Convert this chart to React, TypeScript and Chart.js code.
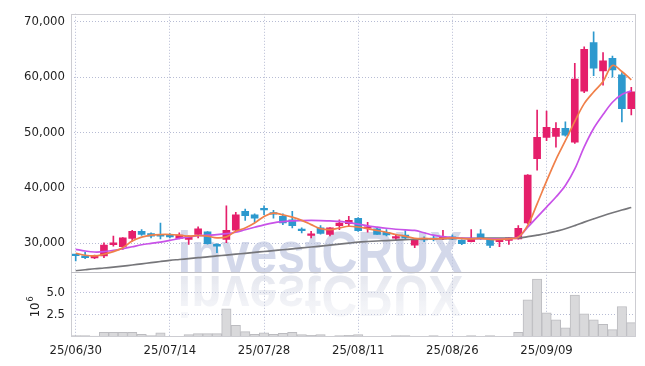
import React, { useEffect, useRef } from 'react';
import { Chart, registerables } from 'chart.js';

Chart.register(...registerables);

const dates = [
  '25/06/30', '25/07/01', '25/07/02', '25/07/03', '25/07/04', '25/07/07', '25/07/08', '25/07/09', '25/07/10', '25/07/11',
  '25/07/14', '25/07/15', '25/07/16', '25/07/17', '25/07/18', '25/07/21', '25/07/22', '25/07/23', '25/07/24', '25/07/25',
  '25/07/28', '25/07/29', '25/07/30', '25/07/31', '25/08/01', '25/08/04', '25/08/05', '25/08/06', '25/08/07', '25/08/08',
  '25/08/11', '25/08/12', '25/08/13', '25/08/14', '25/08/18', '25/08/19', '25/08/20', '25/08/21', '25/08/22', '25/08/25',
  '25/08/26', '25/08/27', '25/08/28', '25/08/29', '25/09/01', '25/09/02', '25/09/03', '25/09/04', '25/09/05', '25/09/08',
  '25/09/09', '25/09/10', '25/09/11', '25/09/12', '25/09/15', '25/09/16', '25/09/17', '25/09/18', '25/09/19', '25/09/22',
];

const opens = [
  27900, 27680, 27320, 27680, 29700, 29340, 30830, 32140, 31730, 31550,
  31430, 30830, 30650, 31550, 32020, 29760, 30650, 32320, 35720, 35120,
  36130, 35420, 34820, 34220, 32440, 31370, 32740, 31550, 33160, 33510,
  34460, 32680, 32560, 31960, 30890, 31430, 29640, 30770, 30830, 30770,
  31130, 30480, 30240, 31670, 30650, 30240, 30480, 30770, 33630, 45240,
  49110, 49290, 50720, 48220, 57450, 66250, 61130, 63390, 60420, 54280,
];
const highs = [
  27950, 28390, 27850, 30050, 31250, 31000, 32320, 32440, 31850, 33630,
  31730, 31840, 31300, 32920, 32100, 29900, 36730, 35540, 36130, 35300,
  36730, 35900, 35300, 35720, 32740, 32140, 33160, 32800, 34220, 34820,
  34600, 33750, 32700, 32440, 31550, 32260, 30650, 31130, 31300, 32320,
  31500, 30600, 32440, 32440, 30700, 30700, 31000, 33160, 42400, 54050,
  53870, 51790, 51910, 62500, 65480, 68160, 64410, 63800, 60800, 58160,
];
const lows = [
  26800, 27200, 27200, 27380, 29460, 28870, 30360, 31370, 30950, 30770,
  30950, 30770, 29760, 30950, 29800, 28270, 30060, 32200, 34100, 33750,
  35120, 34520, 33330, 32740, 31840, 30950, 31600, 31300, 32440, 33040,
  32100, 31960, 31550, 31300, 30480, 30650, 29160, 30240, 30400, 30600,
  30600, 29700, 30200, 30650, 29160, 29340, 29760, 30700, 33500, 43160,
  48520, 47320, 49300, 48000, 57200, 60240, 58520, 60000, 51910, 53160,
];
const closes = [
  27750, 27380, 27800, 29640, 30050, 30950, 32140, 31550, 31250, 31250,
  31130, 31430, 31250, 32560, 29880, 29460, 32320, 35120, 34940, 34520,
  36010, 35240, 33630, 33160, 32260, 31670, 31730, 32740, 33630, 34100,
  32260, 32860, 31550, 31490, 31070, 30950, 30650, 30590, 30650, 31010,
  30770, 29880, 30830, 30830, 29580, 30650, 30950, 32680, 42270, 49110,
  50900, 50720, 49520, 59650, 65000, 61610, 62920, 61310, 54280, 57330,
];
const volumes = [
  150000, 150000, 100000, 520000, 520000, 520000, 520000, 300000, 150000, 480000,
  80000, 80000, 260000, 370000, 370000, 370000, 3150000, 1300000, 600000, 300000,
  480000, 300000, 400000, 520000, 260000, 190000, 260000, 50000, 150000, 190000,
  260000, 80000, 80000, 80000, 150000, 150000, 80000, 80000, 150000, 80000,
  80000, 80000, 150000, 80000, 150000, 80000, 80000, 520000, 4150000, 6480000,
  2700000, 1930000, 1040000, 4700000, 2600000, 1930000, 1410000, 820000, 3410000, 1600000,
];
const ma5 = [
  28160, 27800, 27680, 27980, 28450, 29160, 30360, 31070, 31430, 31550,
  31550, 31430, 31250, 31370, 31250, 30950, 31130, 32140, 32730, 33620,
  34820, 35410, 35120, 34700, 34110, 33340, 32620, 32440, 32730, 33040,
  32910, 32620, 32270, 31960, 31550, 31250, 30840, 30840, 30770, 30840,
  30950, 30840, 30770, 30840, 30660, 30660, 30770, 31070, 33200, 37100,
  41200, 45100, 48500, 52000, 55200, 57300, 59200, 62100, 61000, 59500,
];
const ma10 = [
  28875, 28571, 28393, 28446, 28696, 28982, 29339, 29696, 29946, 30179,
  30482, 30839, 31125, 31339, 31429, 31518, 31696, 31964, 32411, 32857,
  33304, 33661, 33875, 34018, 34071, 34089, 34071, 34000, 33929, 33696,
  33429, 33125, 32893, 32679, 32500, 32375, 32286, 31875, 31429, 31161,
  30982, 30893, 30839, 30804, 30768, 30768, 30804, 31071, 32857, 34696,
  36500, 38321, 40393, 43393, 47393, 50714, 53214, 55446, 56839, 57500,
];
const ma60 = [
  25000, 25180, 25360, 25500, 25660, 25840, 26040, 26250, 26460, 26680,
  26880, 27040, 27200, 27360, 27500, 27680, 27840, 28000, 28160, 28320,
  28480, 28640, 28800, 28960, 29120, 29290, 29460, 29640, 29820, 30000,
  30180, 30290, 30380, 30460, 30550, 30620, 30680, 30730, 30770, 30800,
  30820, 30840, 30860, 30870, 30890, 30890, 30910, 30960, 31160, 31430,
  31730, 32140, 32590, 33160, 33790, 34380, 34950, 35480, 35980, 36430,
];

const priceTicks = [30000, 40000, 50000, 60000, 70000];
const volumeTicks = [2500000, 5000000];
const labelEvery = 10;

const UP = 'rgb(229,31,107)';
const DOWN = 'rgb(45,153,206)';
const GRID = 'rgba(170,176,205,0.85)';
const TEXT = '#1f1f1f';
const FONT = "'DejaVu Sans Condensed', 'DejaVu Sans', sans-serif";

const candleColor = (i: number) => (closes[i] >= opens[i] ? UP : DOWN);

const decorPlugin = {
  id: 'decor',
  beforeDatasetsDraw(chart: any) {
    const { ctx, chartArea } = chart;
    ctx.save();
    ctx.beginPath();
    ctx.rect(chartArea.left, chartArea.top, chartArea.right - chartArea.left, chartArea.bottom - chartArea.top);
    ctx.clip();
    ctx.font = "bold 60px 'Liberation Sans', Arial, sans-serif";
    ctx.textAlign = 'center';
    ctx.textBaseline = 'alphabetic';
    ctx.translate(320, 273);
    ctx.save();
    ctx.scale(0.83, 1);
    ctx.fillStyle = 'rgba(190,198,224,0.68)';
    ctx.fillText('investCRUX', 0, 0);
    ctx.restore();
    ctx.save();
    ctx.translate(0, 3);
    ctx.scale(0.83, -0.95);
    const g = ctx.createLinearGradient(0, 0, 0, -46);
    g.addColorStop(0, 'rgba(205,209,224,0.5)');
    g.addColorStop(1, 'rgba(205,209,224,0.15)');
    ctx.fillStyle = g;
    ctx.fillText('investCRUX', 0, 0);
    ctx.restore();
    ctx.restore();
  },
  afterDatasetsDraw(chart: any) {
    const { ctx, chartArea } = chart;
    const sep = chart.scales.y.bottom;
    ctx.save();
    ctx.strokeStyle = 'rgb(205,205,210)';
    ctx.lineWidth = 1;
    ctx.strokeRect(
      Math.round(chartArea.left) + 0.5,
      Math.round(chartArea.top) + 0.5,
      Math.round(chartArea.right - chartArea.left) - 1,
      Math.round(chartArea.bottom - chartArea.top) - 1
    );
    ctx.strokeStyle = 'rgb(190,190,195)';
    ctx.beginPath();
    ctx.moveTo(chartArea.left, Math.round(sep) + 0.5);
    ctx.lineTo(chartArea.right, Math.round(sep) + 0.5);
    ctx.stroke();
    // volume unit label
    const v = chart.scales.v;
    ctx.fillStyle = TEXT;
    ctx.translate(39, (v.top + v.bottom) / 2 + 2);
    ctx.rotate(-Math.PI / 2);
    ctx.textBaseline = 'alphabetic';
    ctx.textAlign = 'left';
    ctx.font = `13px ${FONT}`;
    const w = ctx.measureText('10').width;
    const w6 = 7;
    const start = -(w + w6) / 2;
    ctx.fillText('10', start, 0);
    ctx.font = `9px ${FONT}`;
    ctx.fillText('6', start + w + 1, -6);
    ctx.restore();
  },
};

export default function App() {
  const ref = useRef<HTMLCanvasElement | null>(null);

  useEffect(() => {
    document.body.style.margin = '0';
    const canvas = ref.current;
    if (!canvas) return;
    const chart = new Chart(canvas, {
      type: 'bar',
      data: {
        labels: dates,
        datasets: [
          {
            type: 'line',
            label: 'MA5',
            data: ma5,
            yAxisID: 'y',
            borderColor: 'rgb(240,128,74)',
            borderWidth: 1.7,
            pointRadius: 0,
            tension: 0.35,
            order: 0,
          } as any,
          {
            type: 'line',
            label: 'MA10',
            data: ma10,
            yAxisID: 'y',
            borderColor: 'rgb(200,82,232)',
            borderWidth: 1.7,
            pointRadius: 0,
            tension: 0.35,
            order: 0,
          } as any,
          {
            type: 'line',
            label: 'MA60',
            data: ma60,
            yAxisID: 'y',
            borderColor: 'rgb(118,118,122)',
            borderWidth: 1.7,
            pointRadius: 0,
            tension: 0.35,
            order: 0,
          } as any,
          {
            type: 'bar',
            label: 'wick',
            data: lows.map((l, i) => [l, highs[i]]),
            yAxisID: 'y',
            backgroundColor: (c: any) => candleColor(c.dataIndex),
            barThickness: 1,
            grouped: false,
            borderSkipped: false,
            order: 1,
          } as any,
          {
            type: 'bar',
            label: 'body',
            data: opens.map((o, i) => [o, closes[i]]),
            yAxisID: 'y',
            backgroundColor: (c: any) => candleColor(c.dataIndex),
            barThickness: 7,
            grouped: false,
            borderSkipped: false,
            minBarLength: 1.5,
            order: 1,
          } as any,
          {
            type: 'bar',
            label: 'volume',
            data: volumes,
            yAxisID: 'v',
            backgroundColor: 'rgb(217,217,219)',
            borderColor: 'rgb(188,188,192)',
            borderWidth: 1,
            borderSkipped: 'bottom',
            barPercentage: 1,
            categoryPercentage: 1,
            grouped: false,
            order: 2,
          } as any,
        ],
      },
      options: {
        responsive: false,
        animation: false,
        devicePixelRatio: 1,
        layout: { padding: { left: 0, right: 9, top: 10, bottom: 0 } },
        plugins: { legend: { display: false }, tooltip: { enabled: false } },
        scales: {
          x: {
            type: 'category',
            offset: true,
            grid: { offset: false, color: GRID, drawTicks: false, lineWidth: 1 },
            border: { display: false, dash: [1, 2] },
            ticks: {
              autoSkip: false,
              maxRotation: 0,
              padding: 6,
              color: TEXT,
              font: { family: FONT, size: 13 },
            },
            afterBuildTicks: (s: any) => {
              s.ticks = s.ticks.filter((t: any) => t.value % labelEvery === 0);
            },
            afterFit: (s: any) => {
              s.height = 29;
            },
          },
          v: {
            type: 'linear',
            position: 'left',
            stack: 'main',
            stackWeight: 66,
            min: 0,
            max: 7300000,
            grid: { color: GRID, drawTicks: false },
            border: { display: false, dash: [1, 2] },
            afterBuildTicks: (s: any) => {
              s.ticks = volumeTicks.map((value) => ({ value }));
            },
            ticks: {
              padding: 6,
              color: TEXT,
              font: { family: FONT, size: 13 },
              callback: (val: any) => (Number(val) / 1000000).toFixed(1),
            },
            afterFit: (s: any) => {
              s.width = 71;
            },
          },
          y: {
            type: 'linear',
            position: 'left',
            stack: 'main',
            stackWeight: 261,
            min: 24820,
            max: 71430,
            grid: { color: GRID, drawTicks: false },
            border: { display: false, dash: [1, 2] },
            afterBuildTicks: (s: any) => {
              s.ticks = priceTicks.map((value) => ({ value }));
            },
            ticks: {
              padding: 6,
              color: TEXT,
              font: { family: FONT, size: 13 },
              callback: (val: any) => Number(val).toLocaleString('en-US'),
            },
            afterFit: (s: any) => {
              s.width = 71;
            },
          },
        },
      } as any,
      plugins: [decorPlugin],
    });
    return () => chart.destroy();
  }, []);

  return (
    <div style={{ width: 645, height: 366, background: '#fff' }}>
      <canvas ref={ref} width={645} height={366} style={{ display: 'block' }} />
    </div>
  );
}
